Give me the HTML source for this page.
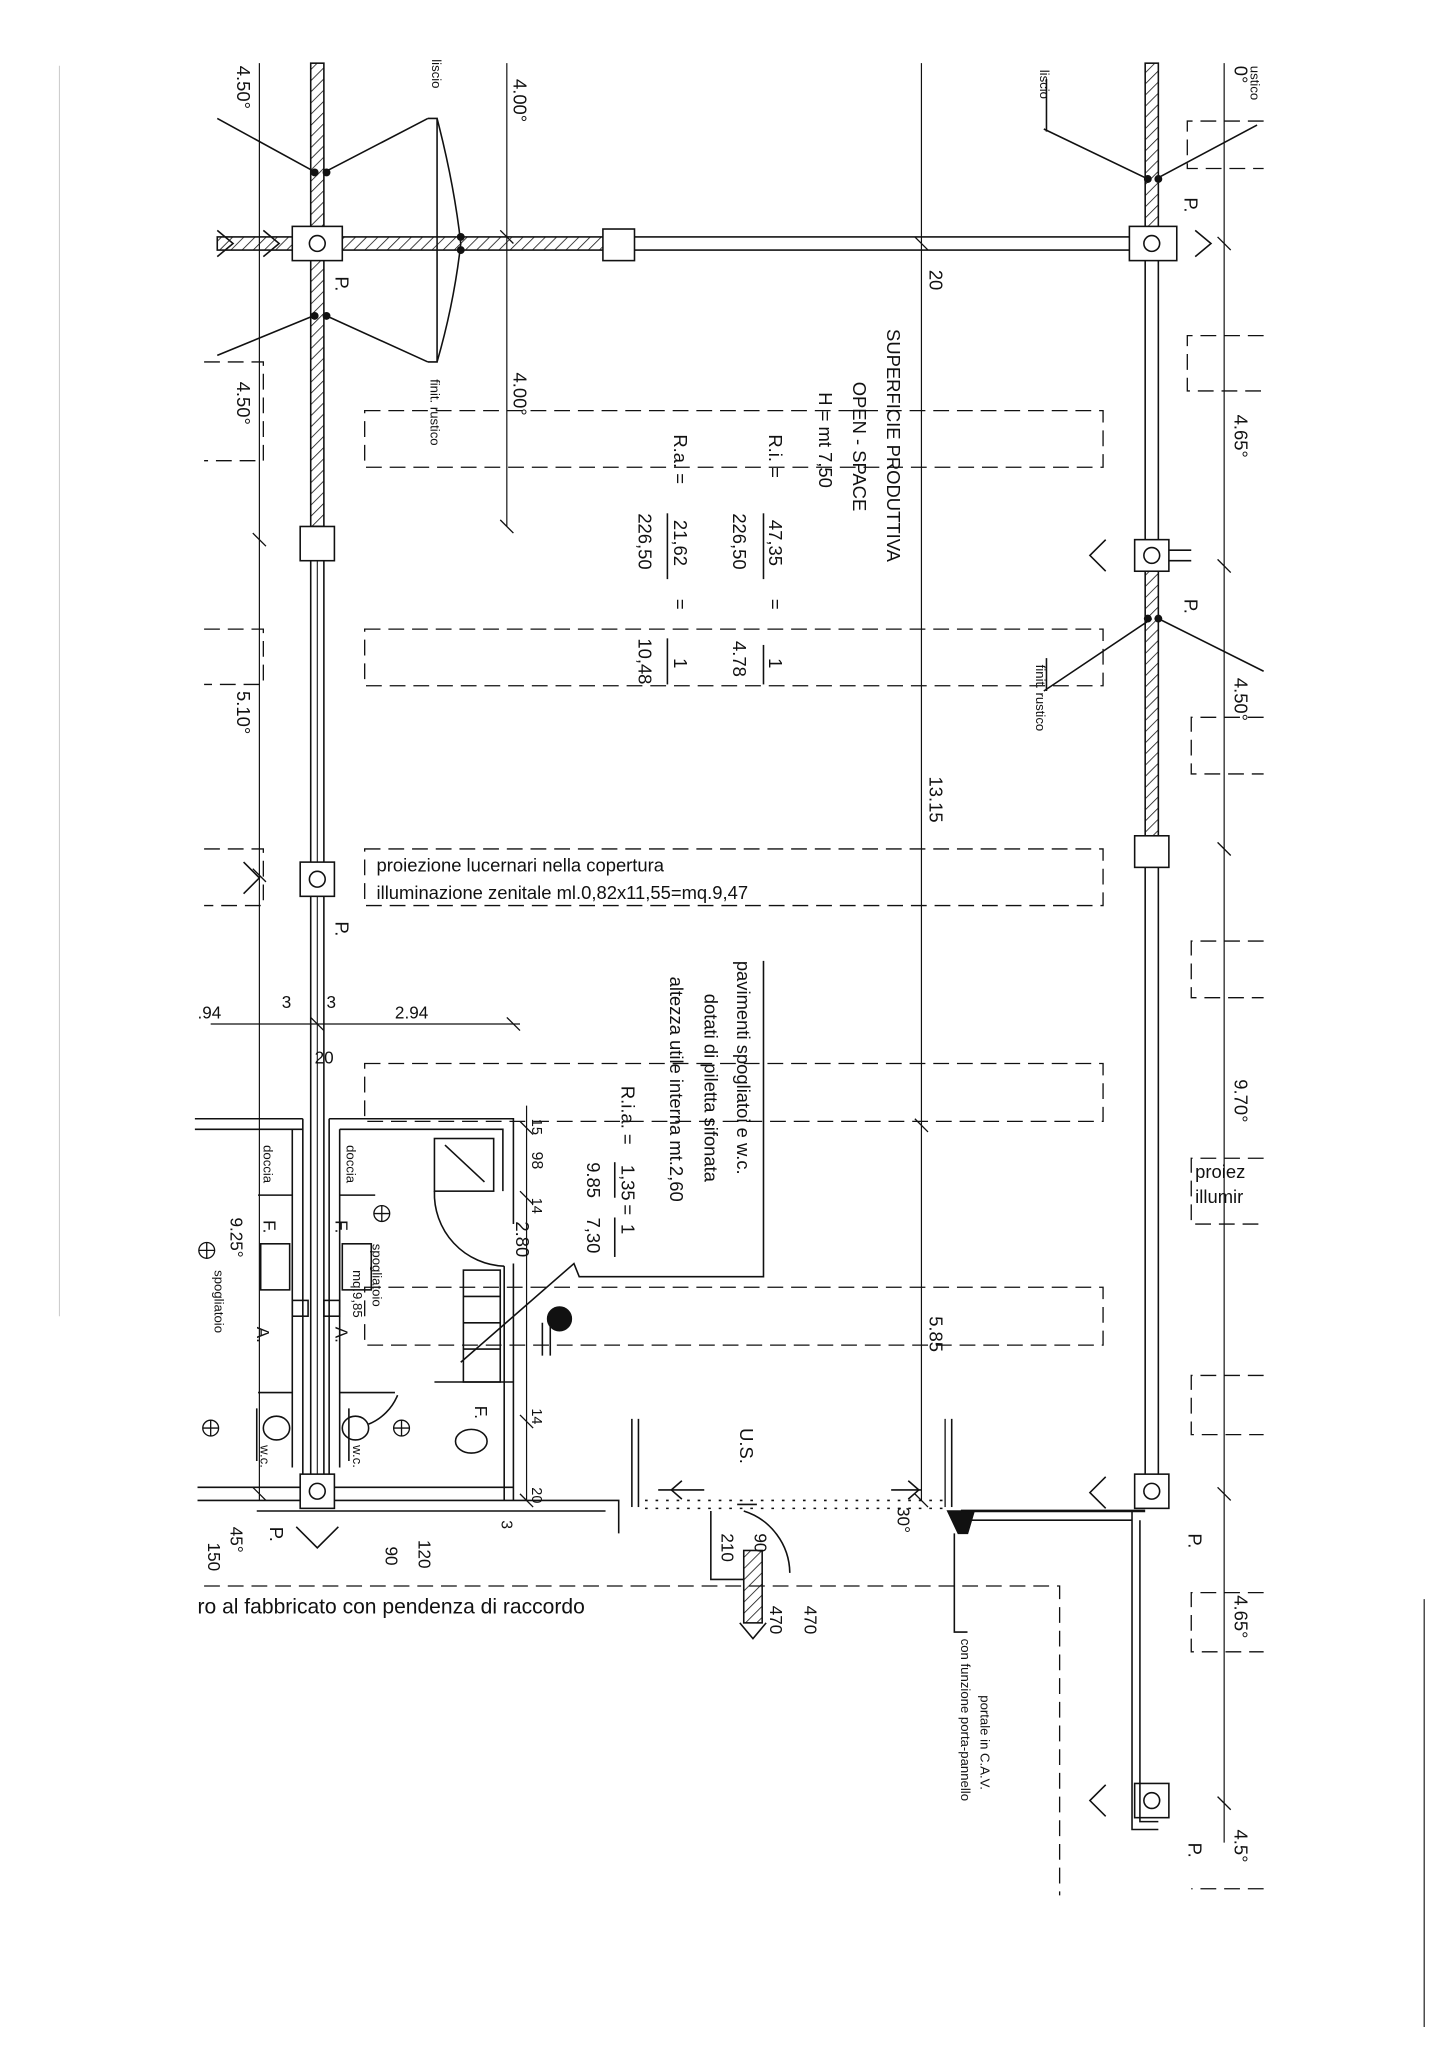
<!DOCTYPE html>
<html><head><meta charset="utf-8"><style>
html,body{margin:0;padding:0;background:#fff}
svg{display:block}
text{font-family:"Liberation Sans",sans-serif;fill:#111}
</style></head><body>
<svg width="1448" height="2048" viewBox="0 0 1100 1556" xmlns="http://www.w3.org/2000/svg">
<defs>
<pattern id="h" width="6" height="6" patternUnits="userSpaceOnUse" patternTransform="rotate(45)"><line x1="0" y1="0" x2="0" y2="6" stroke="#111" stroke-width="1.2"/></pattern>
</defs>
<g stroke="#111" fill="none" stroke-width="1.2">
<rect x="236" y="48" width="10" height="352" fill="url(#h)"/>
<rect x="236" y="400" width="10" height="740"/>
<line x1="241" y1="420" x2="241" y2="1140" stroke-width="0.8"/>
<rect x="870" y="48" width="10" height="142" fill="url(#h)"/>
<rect x="870" y="190" width="10" height="230"/>
<rect x="870" y="420" width="10" height="215" fill="url(#h)"/>
<rect x="870" y="635" width="10" height="505"/>
<rect x="165" y="180" width="70" height="10" fill="url(#h)"/>
<rect x="246" y="180" width="214" height="10" fill="url(#h)"/>
<rect x="480" y="180" width="390" height="10"/>
<rect x="222" y="172" width="38" height="26" fill="#fff"/><circle cx="241" cy="185" r="6"/>
<rect x="458" y="174" width="24" height="24" fill="#fff"/>
<rect x="858" y="172" width="36" height="26" fill="#fff"/><circle cx="875" cy="185" r="6"/>
<rect x="228" y="400" width="26" height="26" fill="#fff"/>
<rect x="862" y="410" width="26" height="24" fill="#fff"/><circle cx="875" cy="422" r="6"/>
<rect x="228" y="655" width="26" height="26" fill="#fff"/><circle cx="241" cy="668" r="6"/>
<rect x="862" y="635" width="26" height="24" fill="#fff"/>
<rect x="862" y="1120" width="26" height="26" fill="#fff"/><circle cx="875" cy="1133" r="6"/>
<rect x="862" y="1355" width="26" height="26" fill="#fff"/><circle cx="875" cy="1368" r="6"/>
<line x1="888" y1="418" x2="905" y2="418"/><line x1="888" y1="426" x2="905" y2="426"/>
<line x1="730" y1="1148" x2="870" y2="1148" stroke-width="2"/>
<line x1="735" y1="1155" x2="860" y2="1155"/>
<path d="M860 1148 V1390 H880 M866 1155 V1384 H880" />
<path d="M720 1148 L740 1148 L735 1165 L728 1165 Z" fill="#111"/>
<line x1="718" y1="1078" x2="718" y2="1145" stroke-width="1"/><line x1="723" y1="1078" x2="723" y2="1145"/>
<line x1="480" y1="1078" x2="480" y2="1145"/><line x1="485" y1="1078" x2="485" y2="1145"/>
<line x1="490" y1="1140" x2="716" y2="1140" stroke-dasharray="2 6"/>
<line x1="490" y1="1146" x2="716" y2="1146" stroke-dasharray="2 6"/>
<line x1="197" y1="48" x2="197" y2="1140" stroke-width="0.9"/>
<line x1="385" y1="48" x2="385" y2="400" stroke-width="0.9"/>
<line x1="700" y1="48" x2="700" y2="1140" stroke-width="0.9"/>
<line x1="930" y1="48" x2="930" y2="1400" stroke-width="0.9"/>
<line x1="160" y1="778" x2="395" y2="778" stroke-width="0.9"/>
<line x1="400" y1="840" x2="400" y2="1140" stroke-width="0.9"/>
<g stroke-width="1">
<path d="M380 175 l10 10 M380 395 l10 10 M695 180 l10 10 M695 850 l10 10 M695 1135 l10 10 M192 405 l10 10 M192 660 l10 10 M192 1130 l10 10 M925 180 l10 10 M925 425 l10 10 M925 640 l10 10 M925 1130 l10 10 M925 1365 l10 10 M236 773 l10 10 M385 773 l10 10 M395 852 l10 10 M395 905 l10 10 M395 1075 l10 10 M395 1135 l10 10"/>
</g>
<path d="M165 175 l12 10 l-12 10 M200 175 l12 10 l-12 10 M840 410 l-12 12 l12 12 M840 1122 l-12 12 l12 12 M840 1356 l-12 12 l12 12 M908 175 l12 10 l-12 10 M185 655 l12 12 l-12 12 M225 1160 l16 16 l16 -16"/>
<g stroke-dasharray="12 6" stroke-width="1">
<rect x="277" y="312" width="561" height="43"/>
<rect x="277" y="478" width="561" height="43"/>
<rect x="277" y="645" width="561" height="43"/>
<rect x="277" y="808" width="561" height="44"/>
<rect x="277" y="978" width="561" height="44"/>
<path d="M155 1205 H805 V1440"/>
<path d="M155 275 H200 V350 H155 M155 478 H200 V520 H155 M155 645 H200 V688 H155"/>
<path d="M960 92 H902 V128 H960 M960 255 H902 V297 H960 M960 545 H905 V588 H960 M960 715 H905 V758 H960 M960 880 H905 V930 H960 M960 1045 H905 V1090 H960 M960 1210 H905 V1255 H960 M960 1435 H905"/>
</g>
<path d="M325 90 L248 130 M165 90 L238 130 M325 275 L248 240 M165 270 L238 240"/>
<path d="M325 90 H332 V275 H325 M332 90 Q345 140 350 185 Q345 230 332 275"/>
<path d="M793 98 L870 135 M955 95 L880 135 M793 525 L875 470 M880 470 L960 510"/>
<path d="M795 60 V100 M795 500 V525"/>
<g fill="#111" stroke="none">
<circle cx="239" cy="131" r="3"/><circle cx="248" cy="131" r="3"/><circle cx="239" cy="240" r="3"/><circle cx="248" cy="240" r="3"/>
<circle cx="350" cy="180" r="3"/><circle cx="350" cy="190" r="3"/>
<circle cx="872" cy="136" r="3"/><circle cx="880" cy="136" r="3"/><circle cx="872" cy="470" r="3"/><circle cx="880" cy="470" r="3"/>
</g>
<path d="M148 850 H230 M250 850 H390 V930 M148 858 H230 M258 858 H382 V905"/>
<path d="M230 850 V1120 M250 850 V1120 M258 858 V1115 M222 858 V1115"/>
<rect x="330" y="865" width="45" height="40"/><line x1="338" y1="870" x2="368" y2="898"/>
<path d="M196 908 H222 M258 908 H285 M196 1058 H222 M258 1058 H300 M330 1050 H390 M195 1070 V1110 M265 1070 V1110"/>
<path d="M383 962 V1130 M390 960 V1140 M383 1140 V962"/>
<path d="M383 962 A55 55 0 0 1 330 905"/>
<path d="M302 1060 A40 40 0 0 1 280 1082"/>
<rect x="352" y="965" width="28" height="85"/><path d="M352 985 H380 M352 1005 H380 M352 1025 H380"/>
<rect x="198" y="945" width="22" height="35"/><rect x="260" y="945" width="22" height="35"/>
<rect x="222" y="988" width="12" height="12"/><rect x="246" y="988" width="12" height="12"/>
<ellipse cx="210" cy="1085" rx="10" ry="9"/><ellipse cx="270" cy="1085" rx="10" ry="9"/>
<ellipse cx="358" cy="1095" rx="12" ry="9"/>
<path d="M150 1130 H390 M150 1140 H470 V1165 M195 1148 H460"/>
<rect x="228" y="1120" width="26" height="26" fill="#fff"/><circle cx="241" cy="1133" r="6"/>
<g stroke-width="1"><circle cx="157" cy="950" r="6"/><circle cx="290" cy="922" r="6"/><circle cx="160" cy="1085" r="6"/><circle cx="305" cy="1085" r="6"/>
<path d="M151 950h12M157 944v12M284 922h12M290 916v12M154 1085h12M160 1079v12M299 1085h12M305 1079v12"/></g>
<circle cx="425" cy="1002" r="9" fill="#111"/>
<path d="M412 1005 V1030 M418 1005 V1030"/>
<path d="M580 730 V970 H440 L436 960 L350 1035"/>
<path d="M540 1148 V1200 H565 M565 1148 A50 50 0 0 1 600 1195"/>
<rect x="565" y="1178" width="14" height="55" fill="url(#h)"/>
<path d="M562 1233 L572 1245 L582 1233"/>
<path d="M725 1165 V1240 H735"/>
<line x1="500" y1="1132" x2="535" y2="1132"/><line x1="560" y1="1143" x2="575" y2="1143"/>
<line x1="677" y1="1132" x2="700" y2="1132"/>
<path d="M518 1125 l-8 7 l8 7 M690 1125 l8 7 l-8 7"/>
<line x1="580" y1="390" x2="580" y2="440"/><line x1="580" y1="490" x2="580" y2="520"/>
<line x1="507" y1="390" x2="507" y2="440"/><line x1="507" y1="485" x2="507" y2="520"/>
<line x1="467" y1="883" x2="467" y2="910"/><line x1="467" y1="925" x2="467" y2="955"/>
</g>
<g font-size="14">
<text transform="translate(674,250) rotate(90)">SUPERFICIE PRODUTTIVA</text>
<text transform="translate(648,290) rotate(90)">OPEN - SPACE</text>
<text transform="translate(622,298) rotate(90)">H = mt 7,50</text>
<text transform="translate(584,330) rotate(90)">R.i.  =</text>
<text transform="translate(584,395) rotate(90)">47,35</text>
<text transform="translate(557,390) rotate(90)">226,50</text>
<text transform="translate(584,455) rotate(90)">=</text>
<text transform="translate(584,500) rotate(90)">1</text>
<text transform="translate(557,487) rotate(90)">4.78</text>
<text transform="translate(512,330) rotate(90)">R.a.  =</text>
<text transform="translate(512,395) rotate(90)">21,62</text>
<text transform="translate(485,390) rotate(90)">226,50</text>
<text transform="translate(512,455) rotate(90)">=</text>
<text transform="translate(512,500) rotate(90)">1</text>
<text transform="translate(485,485) rotate(90)">10,48</text>
<text transform="translate(560,730) rotate(90)">pavimenti spogliatoi e w.c.</text>
<text transform="translate(535,755) rotate(90)">dotati di piletta sifonata</text>
<text transform="translate(509,742) rotate(90)">altezza utile interna mt.2,60</text>
<text transform="translate(472,825) rotate(90)">R.i.a.  =</text>
<text transform="translate(472,885) rotate(90)">1,35</text>
<text transform="translate(446,883) rotate(90)">9.85</text>
<text transform="translate(472,915) rotate(90)">=</text>
<text transform="translate(472,930) rotate(90)">1</text>
<text transform="translate(446,925) rotate(90)">7,30</text>
<text transform="translate(706,205) rotate(90)">20</text>
<text transform="translate(706,590) rotate(90)">13.15</text>
<text transform="translate(706,1000) rotate(90)">5.85</text>
<text transform="translate(390,60) rotate(90)">4.00°</text>
<text transform="translate(390,283) rotate(90)">4.00°</text>
<text transform="translate(180,50) rotate(90)">4.50°</text>
<text transform="translate(180,290) rotate(90)">4.50°</text>
<text transform="translate(180,525) rotate(90)">5.10°</text>
<text transform="translate(938,315) rotate(90)">4.65°</text>
<text transform="translate(938,515) rotate(90)">4.50°</text>
<text transform="translate(938,820) rotate(90)">9.70°</text>
<text transform="translate(938,1212) rotate(90)">4.65°</text>
<text transform="translate(938,1390) rotate(90)">4.5°</text>
<text transform="translate(938,50) rotate(90)">0°</text>
<text transform="translate(255,210) rotate(90)">P.</text>
<text transform="translate(900,150) rotate(90)">P.</text>
<text transform="translate(900,455) rotate(90)">P.</text>
<text transform="translate(255,700) rotate(90)">P.</text>
<text transform="translate(903,1165) rotate(90)">P.</text>
<text transform="translate(205,1160) rotate(90)">P.</text>
<text transform="translate(903,1400) rotate(90)">P.</text>
<text transform="translate(392,928) rotate(90)">2.80</text>
<text transform="translate(404,850) rotate(90)" font-size="11">15</text>
<text transform="translate(404,875) rotate(90)" font-size="12">98</text>
<text transform="translate(404,910) rotate(90)" font-size="11">14</text>
<text transform="translate(404,1070) rotate(90)" font-size="11">14</text>
<text transform="translate(404,1130) rotate(90)" font-size="11">20</text>
<text transform="translate(381,1155) rotate(90)" font-size="12">3</text>
<text transform="translate(158,1172) rotate(90)" font-size="13">150</text>
<text transform="translate(175,1160) rotate(90)" font-size="13">45°</text>
<text transform="translate(293,1175) rotate(90)" font-size="13">90</text>
<text transform="translate(318,1170) rotate(90)" font-size="13">120</text>
<text transform="translate(548,1165) rotate(90)" font-size="13">210</text>
<text transform="translate(573,1165) rotate(90)" font-size="13">90</text>
<text transform="translate(585,1220) rotate(90)" font-size="13">470</text>
<text transform="translate(611,1220) rotate(90)" font-size="13">470</text>
<text transform="translate(562,1085) rotate(90)" font-size="14">U.S.</text>
<text transform="translate(682,1145) rotate(90)" font-size="13">30°</text>
</g>
<g font-size="10">
<text transform="translate(328,45) rotate(90)">liscio</text>
<text transform="translate(327,288) rotate(90)">finit. rustico</text>
<text transform="translate(790,53) rotate(90)">liscio</text>
<text transform="translate(787,505) rotate(90)">finit. rustico</text>
<text transform="translate(950,50) rotate(90)">ustico</text>
<text transform="translate(745,1288) rotate(90)">portale in C.A.V.</text>
<text transform="translate(730,1245) rotate(90)">con funzione porta-pannello</text>
<text transform="translate(263,870) rotate(90)">doccia</text>
<text transform="translate(200,870) rotate(90)">doccia</text>
<text transform="translate(283,945) rotate(90)">spogliatoio</text>
<text transform="translate(268,965) rotate(90)">mq.9,85</text>
<text transform="translate(163,965) rotate(90)">spogliatoio</text>
<text transform="translate(268,1098) rotate(90)">w.c.</text>
<text transform="translate(198,1098) rotate(90)">w.c.</text>
</g>
<g font-size="13">
<text transform="translate(255,927) rotate(90)">F.</text>
<text transform="translate(200,927) rotate(90)">F.</text>
<text transform="translate(361,1068) rotate(90)">F.</text>
<text transform="translate(255,1008) rotate(90)">A.</text>
<text transform="translate(195,1008) rotate(90)">A.</text>
<text transform="translate(175,925) rotate(90)">9.25°</text>
</g>
<text x="286" y="662" font-size="14">proiezione lucernari nella copertura</text>
<text x="286" y="683" font-size="14">illuminazione zenitale ml.0,82x11,55=mq.9,47</text>
<text x="150" y="1226" font-size="16">ro al fabbricato con pendenza di raccordo</text>
<text x="150" y="774" font-size="13">.94</text>
<text x="214" y="766" font-size="13">3</text>
<text x="248" y="766" font-size="13">3</text>
<text x="300" y="774" font-size="13">2.94</text>
<text x="239" y="808" font-size="13">20</text>
<text x="908" y="895" font-size="14">proiez</text>
<text x="908" y="914" font-size="14">illumir</text>
<line x1="1082" y1="1215" x2="1082" y2="1540" stroke="#333" stroke-width="1"/>
<line x1="45" y1="50" x2="45" y2="1000" stroke="#bbb" stroke-width="0.6"/>
</svg>
</body></html>
